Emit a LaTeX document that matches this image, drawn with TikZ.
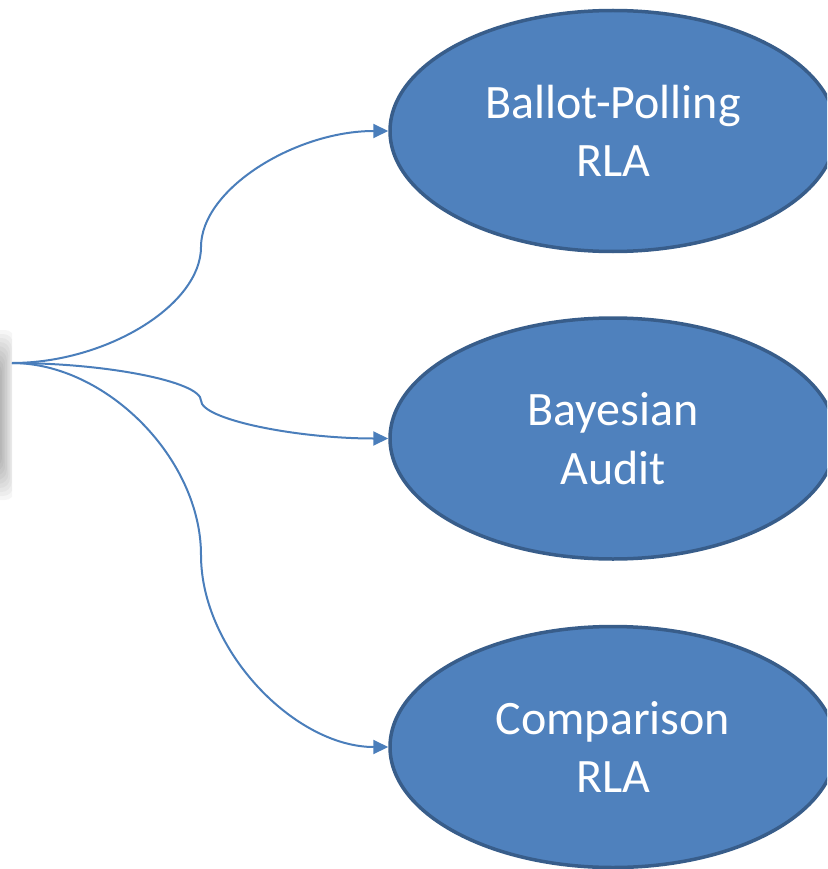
\documentclass[tikz,border=0pt]{standalone}
\usepackage{fontspec}
\setmainfont{Carlito}
\usetikzlibrary{shapes.geometric,arrows.meta}

\definecolor{boxfill}{HTML}{4F81BD}
\definecolor{boxline}{HTML}{385D8A}
\definecolor{linkline}{HTML}{4A7EBB}

\tikzset{
  method/.style={ellipse, draw=boxline, line width=3.5pt, fill=boxfill,
    minimum width=446pt, minimum height=241pt, inner sep=0pt,
    text=white, align=center, font=\fontsize{48}{58.5}\selectfont},
  link/.style={draw=linkline, line width=2pt,
    -{Triangle[length=15pt,width=14pt]}},
}

\begin{document}
\begin{tikzpicture}[x=1pt,y=-1pt]
  \useasboundingbox (0,0) rectangle (827,869);
  \clip (0,0) rectangle (827,869);

  % soft shadow of the off-page source box, cut off at its right edge
  \begin{scope}
    \clip (0,300) rectangle (12,520);
    \foreach \k in {0,...,13}{
      \fill[black,opacity=0.035,rounded corners=10pt]
        (-80,{382-\k*4}) rectangle ({-6+\k*1.6},{448+\k*4});
    }
  \end{scope}

  % the three audit methods
  \node[method] (bp) at (613,131)   {Ballot-Polling\\RLA};
  \node[method] (ba) at (613,438.5) {Bayesian\\Audit};
  \node[method] (cr) at (613,747)   {Comparison\\RLA};

  % common origin of the connectors
  \coordinate (src) at (12,363);

  % curved connectors from the origin to each method
  \draw[link] (src) .. controls +(94.5,0) and (201,305) .. (201,247)
                    .. controls (201,189) and (295.5,131) .. (bp.west);
  \draw[link] (src) .. controls +(94.5,0) and (201,381.75) .. (201,400.5)
                    .. controls (201,419.25) and (295.5,438.5) .. (ba.west);
  \draw[link] (src) .. controls +(94.5,0) and (201,459) .. (201,555)
                    .. controls (201,651) and (295.5,747) .. (cr.west);
\end{tikzpicture}
\end{document}
